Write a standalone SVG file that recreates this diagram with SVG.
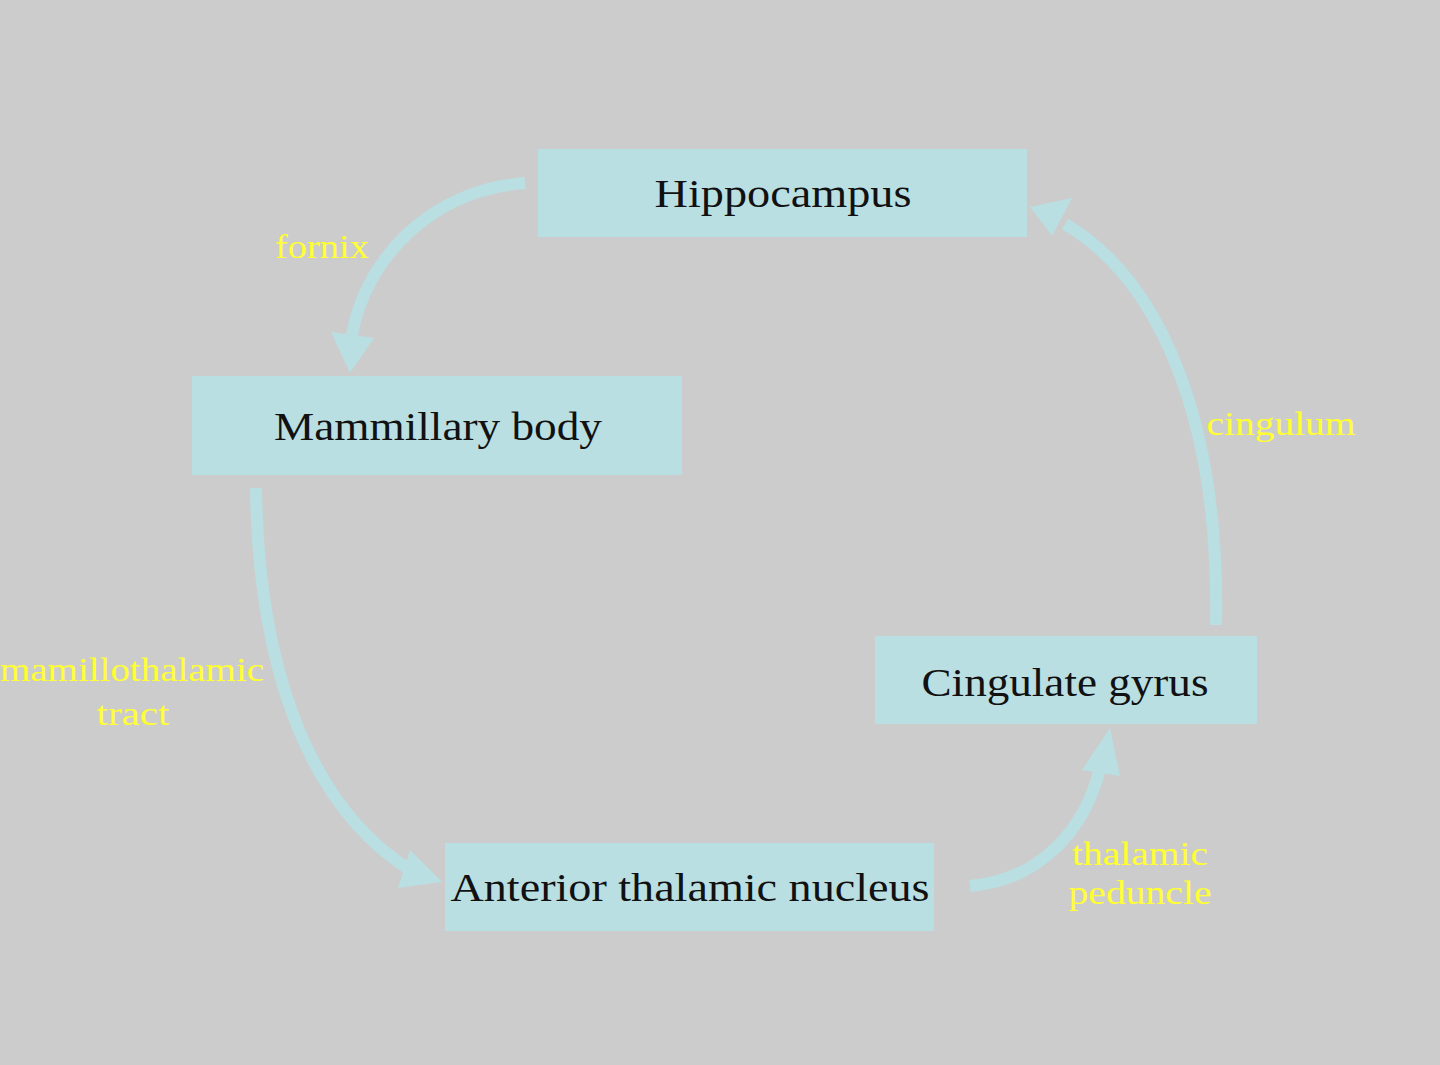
<svg xmlns="http://www.w3.org/2000/svg" width="1440" height="1065" viewBox="0 0 1440 1065">
<style>
.box{fill:#b9dfe2}
.t{font-family:"Liberation Serif",serif;font-size:40px;fill:#111;text-anchor:middle}
.l{font-family:"Liberation Serif",serif;font-size:33px;fill:#ffff33;text-anchor:middle}
.c{fill:none;stroke:#b9dfe2;stroke-width:12}
.h{fill:#b9dfe2}
</style>
<rect width="1440" height="1065" fill="#cccccc"/>
<g id="connectors">
<path class="c" d="M525,183 C430,190 365,260 352,335"/>
<polygon class="h" points="350,373 331,332 374,338"/>
<path class="c" d="M256,488 C258,650 300,800 410,870"/>
<polygon class="h" points="442,882 410,850 398,888"/>
<path class="c" d="M970,886 C1040,880 1085,830 1100,768"/>
<polygon class="h" points="1110,728 1082,770 1120,776"/>
<path class="c" d="M1216,625 C1220,420 1160,280 1065,224"/>
<polygon class="h" points="1030,207 1072,198 1052,236"/>
<text class="l" x="322" y="258" textLength="94" lengthAdjust="spacingAndGlyphs">fornix</text>
<text class="l" x="132" y="681" textLength="264" lengthAdjust="spacingAndGlyphs">mamillothalamic</text>
<text class="l" x="133" y="725" textLength="73" lengthAdjust="spacingAndGlyphs">tract</text>
<text class="l" x="1140" y="865" textLength="136" lengthAdjust="spacingAndGlyphs">thalamic</text>
<text class="l" x="1140" y="904" textLength="143" lengthAdjust="spacingAndGlyphs">peduncle</text>
<text class="l" x="1281" y="435" textLength="149" lengthAdjust="spacingAndGlyphs">cingulum</text>
</g>
<g id="hippocampus"><rect class="box" x="538" y="149" width="489" height="88"/><text class="t" x="783" y="207" textLength="257" lengthAdjust="spacingAndGlyphs">Hippocampus</text></g>
<g id="mammillary"><rect class="box" x="192" y="376" width="490" height="99"/><text class="t" x="438" y="440" textLength="328" lengthAdjust="spacingAndGlyphs">Mammillary body</text></g>
<g id="cingulate"><rect class="box" x="875" y="636" width="382" height="88"/><text class="t" x="1065" y="696" textLength="287" lengthAdjust="spacingAndGlyphs">Cingulate gyrus</text></g>
<g id="anterior"><rect class="box" x="445" y="843" width="489" height="88"/><text class="t" x="690" y="901" textLength="479" lengthAdjust="spacingAndGlyphs">Anterior thalamic nucleus</text></g>
</svg>
